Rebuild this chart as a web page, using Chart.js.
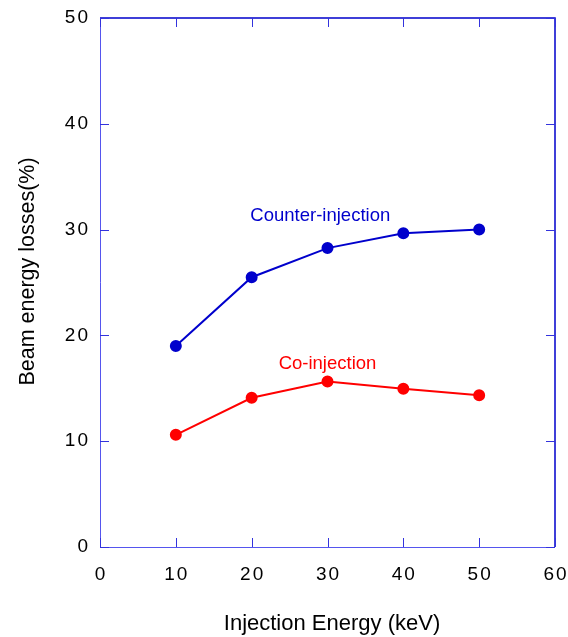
<!DOCTYPE html>
<html><head><meta charset="utf-8">
<script src="https://cdn.jsdelivr.net/npm/chart.js@4"></script>
<style>html,body{margin:0;padding:0;background:#fff;}#wrap{width:568px;height:637px;}</style>
</head><body><div id="wrap"><canvas id="c" width="568" height="637"></canvas></div>
<script>
const energies = [10, 20, 30, 40, 50];
const counterLoss = [19.0, 25.5, 28.25, 29.65, 30.0];
const coLoss = [10.6, 14.1, 15.65, 14.95, 14.35];
const xTicks = [0, 10, 20, 30, 40, 50, 60];
const yTicks = [0, 10, 20, 30, 40, 50];
const labelCounter = {text: 'Counter-injection', x: 29.05, y: 31.25};
const labelCo = {text: 'Co-injection', x: 30.0, y: 17.3};

const BLUE = '#0000cc';
const RED = '#ff0000';

const framePlugin = {
  id: 'frame',
  afterDatasetsDraw(chart) {
    const ctx = chart.ctx, xs = chart.scales.x, ys = chart.scales.y;
    const a = chart.chartArea;
    ctx.save();
    ctx.strokeStyle = BLUE;
    ctx.lineWidth = 1.5;
    ctx.beginPath();
    ctx.moveTo(a.left, a.top); ctx.lineTo(a.right, a.top); ctx.lineTo(a.right, a.bottom);
    ctx.stroke();
    ctx.strokeStyle = '#5555ee';
    ctx.lineWidth = 1;
    ctx.beginPath();
    ctx.moveTo(a.left + 0.5, a.top); ctx.lineTo(a.left + 0.5, a.bottom + 0.5); ctx.lineTo(a.right, a.bottom + 0.5);
    ctx.stroke();
    const tl = 9;
    ctx.strokeStyle = '#3333dd';
    ctx.lineWidth = 1;
    ctx.beginPath();
    xTicks.forEach(v => {
      const px = Math.round(xs.getPixelForValue(v)) + 0.5;
      ctx.moveTo(px, a.bottom); ctx.lineTo(px, a.bottom - tl);
      ctx.moveTo(px, a.top); ctx.lineTo(px, a.top + tl);
    });
    yTicks.forEach(v => {
      const py = Math.round(ys.getPixelForValue(v)) + 0.5;
      ctx.moveTo(a.left, py); ctx.lineTo(a.left + tl, py);
      ctx.moveTo(a.right, py); ctx.lineTo(a.right - tl, py);
    });
    ctx.stroke();
    // tick labels
    const LS = 2;
    ctx.fillStyle = '#000';
    ctx.font = '19px Arial, "Liberation Sans", sans-serif';
    ctx.letterSpacing = LS + 'px';
    ctx.textBaseline = 'middle';
    ctx.textAlign = 'left';
    xTicks.forEach(v => {
      const s = String(v);
      const w = ctx.measureText(s).width - LS;
      ctx.fillText(s, xs.getPixelForValue(v) - w / 2, a.bottom + 28);
    });
    yTicks.forEach(v => {
      const s = String(v);
      const w = ctx.measureText(s).width - LS;
      ctx.fillText(s, a.left - 12 - w, ys.getPixelForValue(v));
    });
    ctx.letterSpacing = '0px';
    // titles
    ctx.font = '22px Arial, "Liberation Sans", sans-serif';
    ctx.textAlign = 'center';
    ctx.fillText('Injection Energy (keV)', 332, 624);
    ctx.font = '21.5px Arial, "Liberation Sans", sans-serif';
    ctx.save();
    ctx.translate(28, 271.5);
    ctx.rotate(-Math.PI / 2);
    ctx.fillText('Beam energy losses(%)', 0, 0);
    ctx.restore();
    // annotations
    ctx.font = '18.5px Arial, "Liberation Sans", sans-serif';
    ctx.fillStyle = BLUE;
    ctx.fillText(labelCounter.text, xs.getPixelForValue(labelCounter.x), ys.getPixelForValue(labelCounter.y));
    ctx.fillStyle = RED;
    ctx.fillText(labelCo.text, xs.getPixelForValue(labelCo.x), ys.getPixelForValue(labelCo.y));
    ctx.restore();
  }
};

new Chart(document.getElementById('c'), {
  type: 'line',
  data: {
    datasets: [
      {label: 'Counter-injection', data: energies.map((e, i) => ({x: e, y: counterLoss[i]})),
       borderColor: BLUE, backgroundColor: BLUE, borderWidth: 2, pointRadius: 5, pointHoverRadius: 5, tension: 0},
      {label: 'Co-injection', data: energies.map((e, i) => ({x: e, y: coLoss[i]})),
       borderColor: RED, backgroundColor: RED, borderWidth: 2, pointRadius: 5, pointHoverRadius: 5, tension: 0}
    ]
  },
  options: {
    responsive: false,
    animation: false,
    devicePixelRatio: 1,
    layout: {padding: {top: 18, right: 13, left: 0, bottom: 0}},
    plugins: {legend: {display: false}, tooltip: {enabled: false}},
    scales: {
      x: {type: 'linear', min: 0, max: 60, border: {display: false}, grid: {display: false},
          ticks: {display: false, stepSize: 10}, afterFit(s) { s.height = 90; }},
      y: {type: 'linear', min: 0, max: 50, border: {display: false}, grid: {display: false},
          ticks: {display: false, stepSize: 10}, afterFit(s) { s.width = 100; }}
    }
  },
  plugins: [framePlugin]
});
</script>
</body></html>
